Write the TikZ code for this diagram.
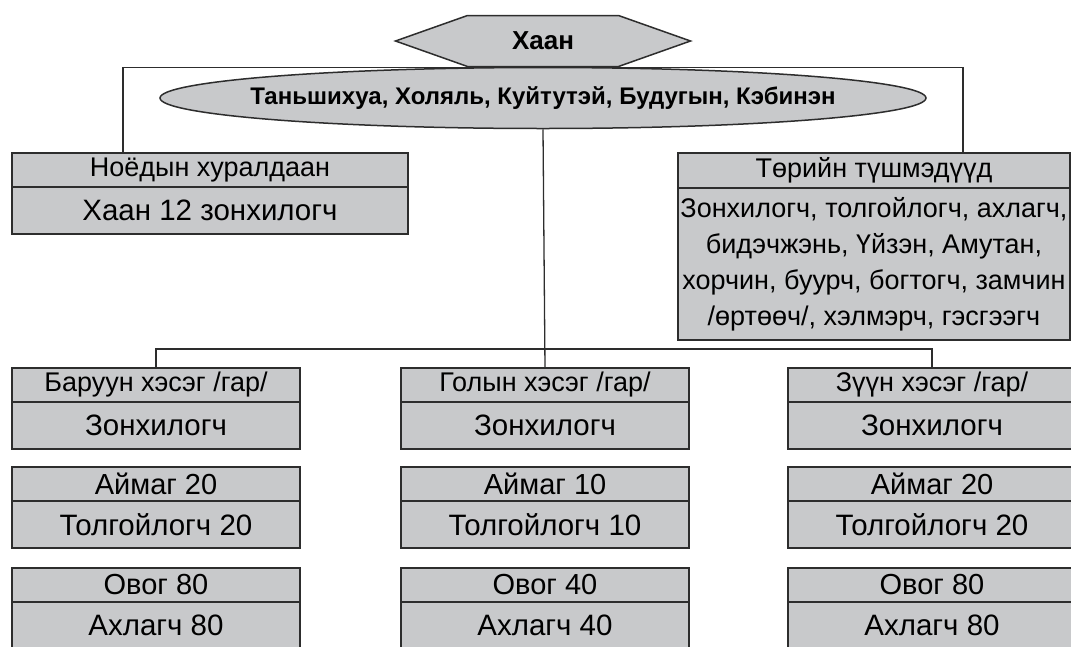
\documentclass[tikz,border=0pt]{standalone}
\usepackage{fontspec}
\setmainfont{Liberation Sans}
\usetikzlibrary{positioning,shapes.geometric,shapes.symbols}
\definecolor{boxgray}{RGB}{200,201,203}
\definecolor{linegray}{RGB}{45,45,45}
\begin{document}
\begin{tikzpicture}[x=1pt,y=-1pt,
  cell/.style={draw=linegray,line width=1.5pt,fill=boxgray,inner sep=0pt,outer sep=0pt,minimum width=288pt},
  head/.style={cell,minimum height=34pt,font=\fontsize{27}{31}\selectfont},
  unit/.style={cell,minimum height=34pt,font=\fontsize{29}{33}\selectfont},
  body/.style={cell,minimum height=47pt,font=\fontsize{29.5}{33}\selectfont},
  link/.style={draw=linegray,line width=1.3pt}]
\clip (0,0) rectangle (1071,646);
% top: khan and the council
\node[signal,signal to=west and east,signal pointer angle=39,draw=linegray,line width=1.5pt,fill=boxgray,
  minimum width=295pt,minimum height=51pt,inner sep=0pt,font=\bfseries\fontsize{26}{30}\selectfont] (hex) at (543,41) {Хаан};
\node[head,minimum width=396pt,anchor=north west] (noyod) at (12,153) {Ноёдын хуралдаан};
\node[body,minimum width=396pt,below=0pt of noyod] (noyodb) {Хаан 12 зонхилогч};
\node[head,minimum height=35pt,minimum width=392pt,anchor=north west] (tush) at (678,153) {Төрийн түшмэдүүд};
\node[cell,minimum height=152pt,minimum width=392pt,below=0pt of tush,align=center,font=\fontsize{27}{36}\selectfont] (tushb)
  {Зонхилогч, толгойлогч, ахлагч,\\ бидэчжэнь, Үйзэн, Амутан,\\ хорчин, буурч, богтогч, замчин\\ /өртөөч/, хэлмэрч, гэсгээгч};
\draw[link] ([xshift=-87pt]noyod.north) |- (hex.south) -| ([xshift=89pt]tush.north);
\node[ellipse,draw=linegray,line width=1.5pt,fill=boxgray,minimum width=766pt,minimum height=61pt,
  inner xsep=-120pt,inner ysep=-10pt,font=\bfseries\fontsize{24}{28}\selectfont] (ell) at (543,98) {Таньшихуа, Холяль, Куйтутэй, Будугын, Кэбинэн};
% the three wings
\node[head,anchor=north] (bh) at (156,368) {Баруун хэсэг /гар/};
\node[body,below=0pt of bh] (bb) {Зонхилогч};
\node[head,anchor=north] (gh) at (545,368) {Голын хэсэг /гар/};
\node[body,below=0pt of gh] (gb) {Зонхилогч};
\node[head,anchor=north] (zh) at (932,368) {Зүүн хэсэг /гар/};
\node[body,below=0pt of zh] (zb) {Зонхилогч};
\draw[link] (ell.south) -- (gh.north);
\draw[link] (bh.north) -- ++(0,-19) -| (zh.north);
% aimag
\node[unit,anchor=north] (ba) at (156,467) {Аймаг 20};
\node[body,below=0pt of ba] (bt) {Толгойлогч 20};
\node[unit,anchor=north] (ga) at (545,467) {Аймаг 10};
\node[body,below=0pt of ga] (gt) {Толгойлогч 10};
\node[unit,anchor=north] (za) at (932,467) {Аймаг 20};
\node[body,below=0pt of za] (zt) {Толгойлогч 20};
% ovog
\node[unit,anchor=north] (bo) at (156,568) {Овог 80};
\node[body,below=0pt of bo] (bx) {Ахлагч 80};
\node[unit,anchor=north] (go) at (545,568) {Овог 40};
\node[body,below=0pt of go] (gx) {Ахлагч 40};
\node[unit,anchor=north] (zo) at (932,568) {Овог 80};
\node[body,below=0pt of zo] (zx) {Ахлагч 80};
\end{tikzpicture}
\end{document}
